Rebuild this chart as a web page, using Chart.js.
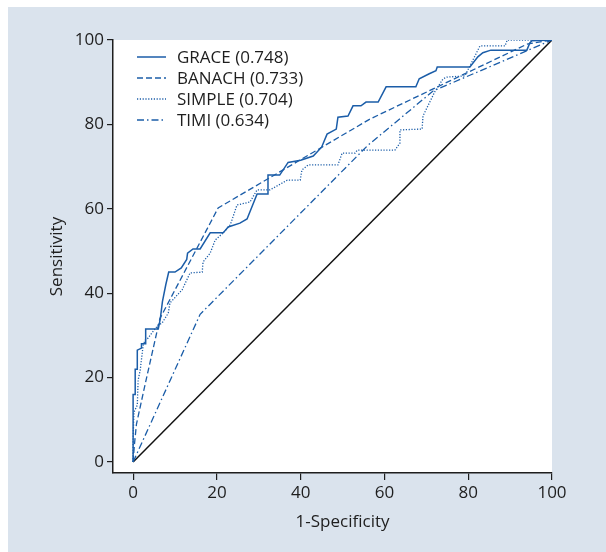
<!DOCTYPE html>
<html>
<head>
<meta charset="utf-8">
<script src="https://cdn.jsdelivr.net/npm/chart.js@4"></script>
<style>
  html, body { margin: 0; padding: 0; background: #ffffff; }
  canvas { display: block; }
</style>
</head>
<body>
<canvas id="roc" width="606" height="552"></canvas>
<script>
// ROC curves (x = 1-specificity, y = sensitivity, in %)
const graceX = [0, 0, 0.5, 0.5, 1, 1, 2, 2, 3, 3,
                6, 6.5, 7, 7.8, 8.5, 10, 11.5, 12.8, 13, 14.3,
                16, 18.4, 21.5, 22.7, 25.5, 27.2, 29.6, 32.2, 32.2, 35,
                37, 40, 43, 45, 46.3, 48.5, 48.9, 51.3, 52.5, 54.4,
                55.6, 58.5, 60.4, 67.5, 68.3, 70.7, 72.3, 72.6, 80.4, 82.3,
                83.5, 85.4, 94, 94.7, 95.2, 100];
const graceY = [0, 16, 16, 22, 22, 26.5, 27, 28, 28, 31.5,
                31.5, 34, 38, 42, 45, 45, 46, 48, 49.5, 50.5,
                50.5, 54.3, 54.3, 55.7, 56.6, 57.6, 63.5, 63.5, 68, 68,
                71, 71.5, 72.5, 74.6, 77.7, 78.9, 81.7, 82, 84.4, 84.4,
                85.3, 85.3, 88.9, 88.9, 90.8, 92, 92.7, 93.6, 93.6, 96,
                97, 97.6, 97.6, 99.3, 99.8, 100];

const banachX = [0, 0.3, 0.8, 3, 6.4, 20.3, 56.6, 94, 100];
const banachY = [0, 4, 9, 19, 34, 60.2, 81.3, 99, 100];

const simpleX = [0, 0, 0.2, 1, 1.2, 1.7, 2.4, 2.9, 3.6, 4.5,
                 6, 6.9, 8.4, 8.8, 11.7, 13.6, 16.5, 16.7, 18.4, 19.6,
                 21.5, 23.2, 24.8, 27.9, 29.6, 32.7, 36.8, 39.9, 40.3, 41.8,
                 48.9, 49.9, 53, 53.5, 62.5, 63.7, 63.7, 69, 69.2, 72.1,
                 74, 74.9, 79.2, 82.3, 82.8, 88.8, 89.3, 100];
const simpleY = [0, 5.2, 11.8, 13.5, 19.4, 21.8, 27.7, 28.9, 29.4, 30.6,
                 32.5, 32.9, 35.3, 37.7, 40.8, 44.8, 45, 47.4, 49.5, 52.6,
                 54.3, 56.2, 60.9, 61.6, 64.5, 64.5, 66.8, 66.8, 69.2, 70.4,
                 70.4, 73.2, 73.2, 73.9, 73.9, 75.6, 78.7, 78.9, 82, 87.9,
                 90.8, 91.2, 91.5, 97.6, 98.6, 98.6, 100, 100];

const timiX = [0, 16, 56, 71.6, 100];
const timiY = [0, 35, 75, 87.9, 100];

const refX = [0, 100];
const refY = [0, 100];

const labels = ['GRACE (0.748)', 'BANACH (0.733)', 'SIMPLE (0.704)', 'TIMI (0.634)'];
const tickValues = [0, 20, 40, 60, 80, 100];

const blue = '#1b5da8';
const ink = '#1e1e1e';
const FONT = '"Open Sans", "Noto Sans", sans-serif';
const FSIZE = 17;

function pts(xs, ys) {
    return xs.map((x, i) => ({ x: x, y: ys[i] }));
}

const panelPlugin = {
    id: 'panel',
    beforeDraw(chart) {
        const c = chart.ctx;
        const a = chart.chartArea;
        c.save();
        c.fillStyle = '#ffffff';
        c.fillRect(0, 0, chart.width, chart.height);
        c.fillStyle = '#dae3ed';
        c.fillRect(8, 7, chart.width - 8, chart.height - 7);
        c.fillStyle = '#ffffff';
        c.fillRect(a.left, a.top, a.right - a.left, a.bottom - a.top);
        c.restore();
    },
    afterDraw(chart) {
        const c = chart.ctx;
        const a = chart.chartArea;
        c.save();
        c.fillStyle = ink;
        c.font = FSIZE + 'px ' + FONT;
        // axis titles
        c.textAlign = 'center';
        c.textBaseline = 'middle';
        c.fillText('1-Specificity', (chart.scales.x.getPixelForValue(0) + a.right) / 2, 522);
        c.translate(57, (a.top + a.bottom) / 2);
        c.rotate(-Math.PI / 2);
        c.fillText('Sensitivity', 0, 0);
        c.restore();

        // legend inside the plot
        c.save();
        c.font = FSIZE + 'px ' + FONT;
        c.textAlign = 'left';
        c.textBaseline = 'middle';
        chart.data.datasets.slice(0, 4).forEach((ds, i) => {
            const y = 57 + i * 21;
            c.strokeStyle = ds.borderColor;
            c.lineWidth = ds.borderWidth;
            c.setLineDash(ds.borderDash || []);
            c.beginPath();
            c.moveTo(137, y);
            c.lineTo(166, y);
            c.stroke();
            c.setLineDash([]);
            c.fillStyle = ink;
            c.fillText(ds.label, 177, y + 1);
        });
        c.restore();
    }
};

function fixTicks(scale) {
    scale.ticks = tickValues.map(v => ({ value: v }));
}

new Chart(document.getElementById('roc').getContext('2d'), {
    type: 'scatter',
    data: {
        datasets: [
            { label: labels[0], data: pts(graceX, graceY), borderColor: blue, borderWidth: 1.5 },
            { label: labels[1], data: pts(banachX, banachY), borderColor: blue, borderWidth: 1.3, borderDash: [6, 3] },
            { label: labels[2], data: pts(simpleX, simpleY), borderColor: blue, borderWidth: 1.3, borderDash: [1.2, 1.6] },
            { label: labels[3], data: pts(timiX, timiY), borderColor: blue, borderWidth: 1.3, borderDash: [7, 3, 1.5, 3] },
            { label: 'reference', data: pts(refX, refY), borderColor: '#111111', borderWidth: 1.5 }
        ]
    },
    options: {
        responsive: false,
        animation: false,
        showLine: true,
        elements: {
            point: { radius: 0, hoverRadius: 0 },
            line: { tension: 0, fill: false }
        },
        layout: { padding: { left: 0, top: 40, right: 54, bottom: 0 } },
        plugins: {
            legend: { display: false },
            tooltip: { enabled: false }
        },
        scales: {
            x: {
                type: 'linear',
                min: -4.8,
                max: 100,
                afterBuildTicks: fixTicks,
                afterFit(scale) { scale.height = 79; },
                border: { display: true, color: ink, width: 1.5 },
                grid: { drawOnChartArea: false, drawTicks: true, tickLength: 7, color: ink, lineWidth: 1.2 },
                ticks: { color: ink, font: { family: FONT, size: FSIZE }, padding: 3, maxRotation: 0 }
            },
            y: {
                type: 'linear',
                min: -2.6,
                max: 100,
                afterBuildTicks: fixTicks,
                afterFit(scale) { scale.width = 113; },
                border: { display: true, color: ink, width: 1.5 },
                grid: { drawOnChartArea: false, drawTicks: true, tickLength: 6, color: ink, lineWidth: 1.2 },
                ticks: { color: ink, font: { family: FONT, size: FSIZE }, padding: 3 }
            }
        }
    },
    plugins: [panelPlugin]
});
</script>
</body>
</html>
